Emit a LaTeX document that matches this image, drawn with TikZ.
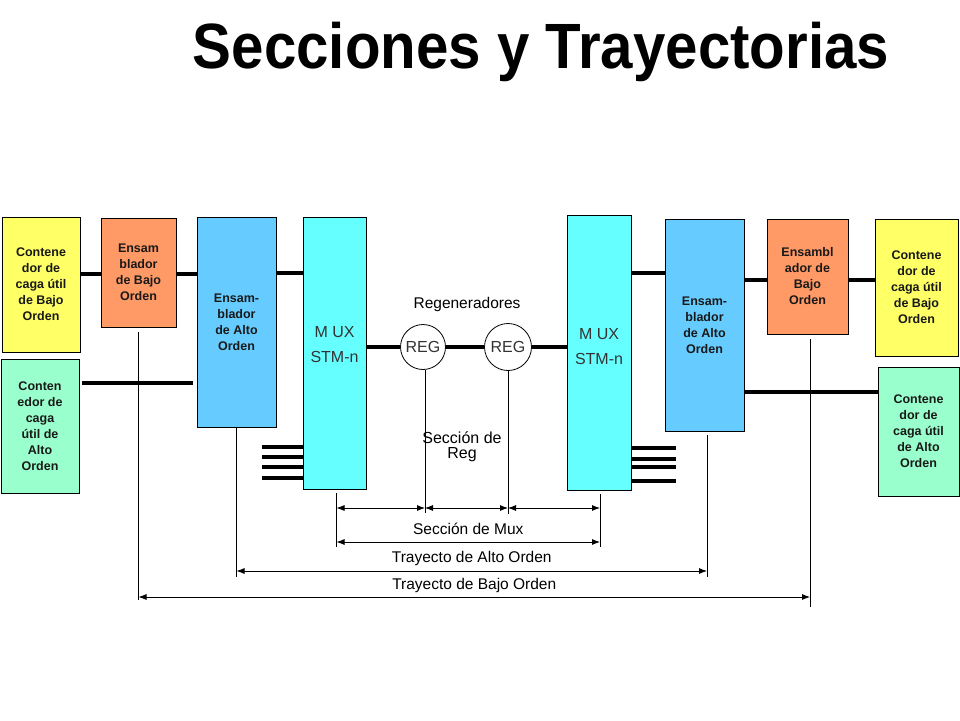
\documentclass[tikz,border=0pt]{standalone}
\usepackage{fontspec}
\setmainfont{Liberation Sans}
\usetikzlibrary{arrows.meta}
\definecolor{ylw}{HTML}{FFFF66}
\definecolor{grn}{HTML}{99FFCC}
\definecolor{org}{HTML}{FF9966}
\definecolor{blu}{HTML}{66CCFF}
\definecolor{cyn}{HTML}{66FFFF}
\tikzset{
  box/.style={draw=black,line width=0.8pt,inner sep=0pt,align=center,text=black!90,
    font=\fontsize{12.5}{16}\selectfont\bfseries},
  muxtxt/.style={align=center,text=black!80,font=\fontsize{16}{25}\selectfont},
  lbl/.style={font=\fontsize{15.5}{18}\selectfont},
  thickline/.style={line width=4pt},
  thinline/.style={line width=0.8pt},
  dimarrow/.style={{Latex[length=8pt,width=6pt]}-{Latex[length=8pt,width=6pt]},line width=0.8pt},
}
\begin{document}
\begin{tikzpicture}[x=1pt,y=-1pt]
    \useasboundingbox (0,0) rectangle (960,720);
    \node[font=\fontsize{64}{70}\selectfont\bfseries,anchor=base](title)at(541,68){\scalebox{0.91}[1]{Secciones y Trayectorias}};
    % left side
    \node[box,fill=ylw,minimum width=78pt,minimum height=135pt](ylL)at(41,284.5){Contene\\dor de\\caga útil\\de Bajo\\Orden};
    \node[box,fill=grn,minimum width=78pt,minimum height=134pt](grL)at(40,426){Conten\\edor de\\caga\\útil de\\Alto\\Orden};
    \node[box,fill=org,minimum width=75pt,minimum height=109pt](orL)at(138.5,272.5){Ensam\\blador\\de Bajo\\Orden};
    \node[box,fill=blu,minimum width=79pt,minimum height=210pt](blL)at(236.5,322){Ensam-\\blador\\de Alto\\Orden};
    \node[box,fill=cyn,minimum width=63pt,minimum height=272pt](muxL)at(334.5,353){};
    \node[muxtxt](muxLt)at([yshift=8pt]muxL.center){M UX\\STM-n};
    % right side
    \node[box,fill=cyn,minimum width=64pt,minimum height=275pt](muxR)at(599,352.5){};
    \node[muxtxt](muxRt)at([yshift=6pt]muxR.center){M UX\\STM-n};
    \node[box,fill=blu,minimum width=79pt,minimum height=212pt](blR)at(704.5,325){Ensam-\\blador\\de Alto\\Orden};
    \node[box,fill=org,minimum width=81pt,minimum height=115pt](orR)at(807.5,276.5){Ensambl\\ador de\\Bajo\\Orden};
    \node[box,fill=ylw,minimum width=83pt,minimum height=137pt](ylR)at(916.5,287.5){Contene\\dor de\\caga útil\\de Bajo\\Orden};
    \node[box,fill=grn,minimum width=81pt,minimum height=129pt](grR)at(918.5,431.5){Contene\\dor de\\caga útil\\de Alto\\Orden};
    % regenerators
    \node[circle,draw,fill=white,line width=0.8pt,minimum size=45pt,inner sep=0pt,muxtxt](r1)at(423,347){REG};
    \node[circle,draw,fill=white,line width=0.8pt,minimum size=47pt,inner sep=0pt,muxtxt](r2)at(508,347){REG};
    \node[lbl](regs)at(467,304){Regeneradores};
    \node[lbl,align=center,font=\fontsize{16}{15}\selectfont](secreg)at(462,447){Sección de\\Reg};
    % connectors
    \draw[thickline](ylL.east|-0,274)--(orL.west|-0,274);
    \draw[thickline](orL.east|-0,274)--(blL.west|-0,274);
    \draw[thickline](blL.east|-0,273)--(muxL.west|-0,273);
    \draw[thickline,shorten <=3pt,shorten >=4pt](grL.east|-0,383)--(blL.west|-0,383);
    \draw[thickline](muxL.east|-r1.west)--(r1.west);
    \draw[thickline](r1.east)--(r2.west);
    \draw[thickline](r2.east)--(muxR.west|-r2.east);
    \draw[thickline](muxR.east|-0,273)--(blR.west|-0,273);
    \draw[thickline](blR.east|-0,280)--(orR.west|-0,280);
    \draw[thickline](orR.east|-0,280)--(ylR.west|-0,280);
    \draw[thickline](blR.east|-0,392)--(grR.west|-0,392);
    \foreach \y in {447,457,467,478} \draw[thickline](muxL.west|-0,\y)--++(-41,0);
    \foreach \y in {448,459,467,481} \draw[thickline](muxR.east|-0,\y)--++(45,0);
    % end lines
    \draw[thinline]([yshift=-5pt]orL.south)--++(0,268)coordinate(eBL);
    \draw[thinline](blL.south)--++(0,150)coordinate(eAL);
    \draw[thinline]([xshift=2pt,yshift=-4pt]muxL.south)--++(0,54)coordinate(eML);
    \draw[thinline]([xshift=2pt]r1.south)--++(0,143)coordinate(eR1);
    \draw[thinline](r2.south)--++(0,143)coordinate(eR2);
    \draw[thinline]([xshift=1pt,yshift=-4pt]muxR.south)--++(0,53)coordinate(eMR);
    \draw[thinline]([xshift=2.5pt,yshift=-4pt]blR.south)--++(0,142)coordinate(eAR);
    \draw[thinline]([xshift=2.5pt,yshift=-5pt]orR.south)--++(0,268)coordinate(eBR);
    % sections and paths
    \draw[dimarrow](eML|-0,508)--(eR1|-0,508);
    \draw[dimarrow](eR1|-0,508)--(eR2|-0,508);
    \draw[dimarrow](eR2|-0,508)--(eMR|-0,508);
    \draw[dimarrow](eML|-0,542)--(eMR|-0,542)node[lbl,midway,above=4pt](secmux){Sección de Mux};
    \draw[dimarrow](eAL|-0,571)--(eAR|-0,571)node[lbl,midway,above=2pt](tAlto){Trayecto de Alto Orden};
    \draw[dimarrow](eBL|-0,597)--(eBR|-0,597)node[lbl,midway,above=1pt](tBajo){Trayecto de Bajo Orden};
\end{tikzpicture}
\end{document}
